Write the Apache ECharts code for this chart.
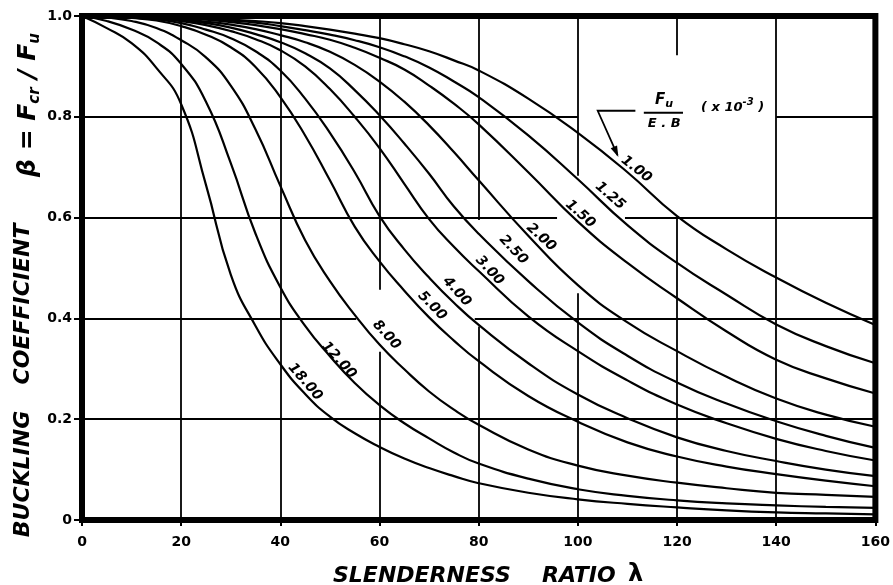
<!DOCTYPE html>
<html><head><meta charset="utf-8"><title>Buckling coefficient</title>
<script src="https://cdn.jsdelivr.net/npm/echarts@6.0.0/dist/echarts.min.js"></script>
<style>html,body{margin:0;padding:0;background:#fff;}#chart{width:893px;height:585px;}</style>
</head><body><div id="chart"></div>
<script>
// ---------------- data ----------------
const lambdaValues = [0,5,10,15,20,25,30,35,40,45,50,55,60,65,70,75,80,90,100,110,120,130,140,150,160];
const curveLabels = ['1.00','1.25','1.50','2.00','2.50','3.00','4.00','5.00','8.00','12.00','18.00'];
const beta_1_00  = [1.000,1.000,0.999,0.998,0.997,0.995,0.993,0.990,0.986,0.980,0.973,0.965,0.956,0.944,0.930,0.912,0.892,0.836,0.768,0.690,0.603,0.537,0.481,0.431,0.387];
const beta_1_25  = [1.000,1.000,0.999,0.998,0.996,0.994,0.991,0.987,0.980,0.972,0.963,0.952,0.938,0.920,0.898,0.870,0.839,0.763,0.676,0.585,0.510,0.447,0.388,0.345,0.311];
const beta_1_50  = [1.000,1.000,0.999,0.997,0.995,0.993,0.988,0.982,0.974,0.964,0.953,0.937,0.917,0.894,0.862,0.826,0.785,0.690,0.592,0.510,0.440,0.374,0.318,0.281,0.251];
const beta_2_00  = [1.000,1.000,0.998,0.997,0.994,0.989,0.983,0.974,0.962,0.948,0.929,0.903,0.870,0.830,0.783,0.730,0.674,0.564,0.466,0.392,0.335,0.284,0.241,0.209,0.185];
const beta_2_50  = [1.000,1.000,0.998,0.996,0.992,0.986,0.977,0.964,0.948,0.926,0.896,0.853,0.803,0.747,0.687,0.622,0.568,0.474,0.392,0.326,0.273,0.231,0.196,0.167,0.143];
const beta_3_00  = [1.000,1.000,0.998,0.995,0.990,0.982,0.970,0.954,0.932,0.900,0.855,0.800,0.738,0.667,0.597,0.542,0.494,0.404,0.335,0.277,0.229,0.192,0.161,0.137,0.118];
const beta_4_00  = [1.000,0.999,0.997,0.993,0.986,0.973,0.956,0.930,0.892,0.836,0.768,0.690,0.603,0.537,0.481,0.431,0.387,0.311,0.249,0.202,0.164,0.137,0.117,0.100,0.087];
const beta_5_00  = [1.000,0.999,0.996,0.991,0.980,0.963,0.938,0.899,0.839,0.763,0.674,0.582,0.513,0.455,0.402,0.356,0.315,0.246,0.195,0.154,0.126,0.106,0.091,0.078,0.067];
const beta_8_00  = [1.000,0.997,0.990,0.976,0.952,0.918,0.862,0.775,0.663,0.555,0.474,0.407,0.348,0.299,0.255,0.219,0.189,0.140,0.108,0.088,0.074,0.063,0.054,0.050,0.046];
const beta_12_00 = [1.000,0.990,0.973,0.948,0.905,0.830,0.708,0.568,0.462,0.385,0.325,0.272,0.228,0.192,0.162,0.134,0.112,0.082,0.061,0.048,0.039,0.033,0.029,0.026,0.024];
const beta_18_00 = [1.000,0.976,0.946,0.897,0.825,0.665,0.487,0.385,0.309,0.250,0.205,0.172,0.145,0.122,0.103,0.087,0.073,0.054,0.041,0.032,0.025,0.019,0.015,0.013,0.011];
const xTickLabels = ['0','20','40','60','80','100','120','140','160'];
const yTickLabels = ['0','0.2','0.4','0.6','0.8','1.0'];

// ---------------- layout / decoration ----------------
const curveSets = [beta_1_00,beta_1_25,beta_1_50,beta_2_00,beta_2_50,beta_3_00,beta_4_00,beta_5_00,beta_8_00,beta_12_00,beta_18_00];
const FONT = '"DejaVu Sans", "Liberation Sans", sans-serif';

// grid line pieces (interrupted where the original has labels)
const gridPieces = [
  [[20,0],[20,1]], [[40,0],[40,1]],
  [[60,0],[60,0.334]], [[60,0.457],[60,1]],
  [[80,0],[80,0.384]], [[80,0.595],[80,1]],
  [[100,0],[100,0.45]], [[100,0.683],[100,1]],
  [[120,0],[120,0.6]], [[120,0.922],[120,1]],
  [[140,0],[140,1]],
  [[0,0.2],[160,0.2]],
  [[0,0.4],[55.3,0.4]], [[79.2,0.4],[160,0.4]],
  [[0,0.6],[95.8,0.6]], [[109.5,0.6],[160,0.6]],
  [[0,0.8],[100,0.8]], [[140,0.8],[160,0.8]]
];

const series = curveLabels.map((name,i)=>({
  name, type:'line',
  data: lambdaValues.map((l,j)=>[l, curveSets[i][j]]),
  smooth:0.5, showSymbol:false, symbol:'none',
  lineStyle:{color:'#000', width:2.2}, silent:true, animation:false, z:3
}));
series.push({
  type:'line', data:[], silent:true, animation:false, z:2,
  markLine:{silent:true, symbol:['none','none'], animation:false, label:{show:false},
    lineStyle:{color:'#000', width:1.8, type:'solid'},
    data: gridPieces.map(s=>[{coord:s[0]},{coord:s[1]}])}
});

const chart = echarts.init(document.getElementById('chart'), null, {renderer:'canvas', width:893, height:585});
const option = {
  backgroundColor:'#fff',
  animation:false,
  grid:{left:82, right:4, top:16, bottom:65, show:true, borderColor:'#000', borderWidth:6, backgroundColor:'transparent'},
  xAxis:{type:'value', min:0, max:160, interval:20,
    axisLine:{show:false},
    axisTick:{show:true, inside:false, length:6, lineStyle:{color:'#000', width:2}},
    axisLabel:{margin:15, color:'#000', fontFamily:FONT, fontWeight:'bold', fontSize:14,
      formatter:v=>xTickLabels[Math.round(v/20)], showMinLabel:true, showMaxLabel:true},
    splitLine:{show:false}},
  yAxis:{type:'value', min:0, max:1, interval:0.2,
    axisLine:{show:false},
    axisTick:{show:true, inside:false, length:8, lineStyle:{color:'#000', width:2}},
    axisLabel:{margin:10, color:'#000', fontFamily:FONT, fontWeight:'bold', fontSize:14,
      formatter:v=>yTickLabels[Math.round(v/0.2)], showMinLabel:true, showMaxLabel:true},
    splitLine:{show:false}},
  series
};
chart.setOption(option);

const P = (l,b)=>chart.convertToPixel({gridIndex:0},[l,b]);
// label anchor: [lambda, beta, angle in degrees]
const labelAnchors = [
  [111.8,0.696,-38],[106.5,0.643,-41],[100.5,0.607,-42],[92.6,0.561,-42],[87.0,0.536,-47],
  [82.2,0.495,-47],[75.6,0.453,-48],[70.6,0.425,-46],[61.4,0.367,-48],[51.8,0.317,-48],[45.0,0.274,-49]
];
const txt = (x,y,text,font,extra)=>Object.assign({type:'text', x, y, silent:true,
  style:{text, fill:'#000', font, align:'center', verticalAlign:'middle', textAlign:'center', textVerticalAlign:'middle'}}, extra||{});
const graphics = [];
curveLabels.forEach((t,i)=>{
  const a = labelAnchors[i]; const p = P(a[0],a[1]);
  graphics.push(txt(p[0],p[1],t,'italic bold 14px "DejaVu Sans"',{rotation:a[2]*Math.PI/180}));
});

// legend: Fu / E.B (x10^-3) with arrow to the 1.00 curve
const fu = P(117.4,0.833), eb = P(117.4,0.786), b1 = P(113.3,0.808), b2 = P(121.2,0.808), ex = P(131.2,0.819);
graphics.push({type:'text', x:fu[0], y:fu[1], silent:true, style:{text:'{m|F}{s|u}', align:'center', verticalAlign:'middle', textAlign:'center', textVerticalAlign:'middle', fill:'#000',
  rich:{m:{fontSize:15, fontWeight:'bold', fontStyle:'italic', fontFamily:FONT, lineHeight:18, verticalAlign:'middle', fill:'#000'},
        s:{fontSize:11, fontWeight:'bold', fontStyle:'italic', fontFamily:FONT, verticalAlign:'bottom', fill:'#000'}}}});
graphics.push({type:'line', silent:true, shape:{x1:b1[0], y1:b1[1], x2:b2[0], y2:b2[1]}, style:{stroke:'#000', lineWidth:2}});
graphics.push(txt(eb[0],eb[1],'E . B','italic bold 13px "DejaVu Sans"'));
graphics.push({type:'text', x:ex[0], y:ex[1], silent:true, style:{text:'{m|( x 10}{s|-3}{m| )}', align:'center', verticalAlign:'middle', textAlign:'center', textVerticalAlign:'middle', fill:'#000',
  rich:{m:{fontSize:13, fontWeight:'bold', fontStyle:'italic', fontFamily:FONT, lineHeight:20, verticalAlign:'middle', fill:'#000'},
        s:{fontSize:10, fontWeight:'bold', fontStyle:'italic', fontFamily:FONT, verticalAlign:'top', fill:'#000'}}}});
const a0 = P(111.6,0.812), a1 = P(104.0,0.812), a2 = P(108.0,0.724);
graphics.push({type:'polyline', silent:true, shape:{points:[a0,a1,a2]}, style:{stroke:'#000', lineWidth:1.8, fill:null}});
(function(){
  const dx=a2[0]-a1[0], dy=a2[1]-a1[1], L=Math.hypot(dx,dy), ux=dx/L, uy=dy/L, nx=-uy, ny=ux;
  const bx=a2[0]-9*ux, by=a2[1]-9*uy;
  graphics.push({type:'polygon', silent:true, shape:{points:[[a2[0]+2*ux,a2[1]+2*uy],[bx+3.5*nx,by+3.5*ny],[bx-3.5*nx,by-3.5*ny]]}, style:{fill:'#000'}});
})();

// axis titles
const TF = 'italic bold 22px "DejaVu Sans"';
graphics.push({type:'text', x:333, y:576, silent:true, style:{text:'SLENDERNESS', font:TF, fill:'#000', align:'left', verticalAlign:'middle', textAlign:'left', textVerticalAlign:'middle'}});
graphics.push({type:'text', x:542, y:576, silent:true, style:{text:'RATIO', font:TF, fill:'#000', align:'left', verticalAlign:'middle', textAlign:'left', textVerticalAlign:'middle'}});
graphics.push({type:'text', x:628, y:575, silent:true, style:{text:'λ', font:'bold 24px "DejaVu Sans"', fill:'#000', align:'left', verticalAlign:'middle', textAlign:'left', textVerticalAlign:'middle'}});
graphics.push(txt(23,474,'BUCKLING',TF,{rotation:Math.PI/2}));
graphics.push(txt(23,304,'COEFFICIENT',TF,{rotation:Math.PI/2}));
graphics.push({type:'text', x:28, y:105, rotation:Math.PI/2, silent:true, style:{text:'{m|β = F}{s|cr}{m| / F}{s|u}', align:'center', verticalAlign:'middle', textAlign:'center', textVerticalAlign:'middle', fill:'#000',
  rich:{m:{fontSize:25, fontWeight:'bold', fontStyle:'italic', fontFamily:FONT, lineHeight:30, verticalAlign:'middle', fill:'#000'},
        s:{fontSize:15, fontWeight:'bold', fontStyle:'italic', fontFamily:FONT, verticalAlign:'bottom', fill:'#000'}}}});

chart.setOption({graphic:graphics});
</script>
</body></html>
